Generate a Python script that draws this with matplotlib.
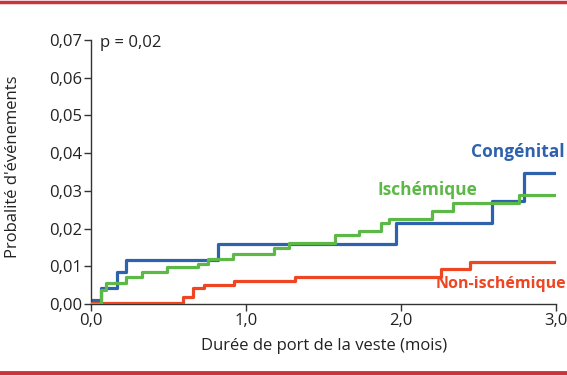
import matplotlib.pyplot as plt
from matplotlib.lines import Line2D

plt.rcParams['font.family'] = ['Open Sans', 'DejaVu Sans']

# step curves (time in months, cumulative event probability)
congenital_t = [0.0, 0.063, 0.17, 0.224, 0.819, 1.966, 2.585, 2.794, 2.99]
congenital_p = [0.001, 0.0043, 0.0084, 0.0117, 0.0158, 0.0214, 0.0274, 0.0347, 0.0347]

ischemic_t = [0.0, 0.063, 0.095, 0.228, 0.331, 0.49, 0.688, 0.753, 0.918, 1.179,
              1.275, 1.574, 1.731, 1.869, 1.923, 2.2, 2.334, 2.763, 3.0]
ischemic_p = [0.0, 0.0037, 0.0057, 0.0071, 0.0084, 0.0097, 0.0107, 0.0119, 0.0132, 0.0149,
              0.0163, 0.0182, 0.0193, 0.0216, 0.0226, 0.0247, 0.0268, 0.0289, 0.0289]

nonischemic_t = [0.0, 0.594, 0.66, 0.729, 0.923, 1.314, 2.26, 2.441, 3.0]
nonischemic_p = [0.0004, 0.0018, 0.0042, 0.0050, 0.0060, 0.0071, 0.0092, 0.0111, 0.0111]

x_ticks = [0, 1, 2, 3]
x_tick_labels = ['0,0', '1,0', '2,0', '3,0']
y_ticks = [0, 0.01, 0.02, 0.03, 0.04, 0.05, 0.06, 0.07]
y_tick_labels = ['0,00', '0,01', '0,02', '0,03', '0,04', '0,05', '0,06', '0,07']

BLUE = '#2f62ad'
GREEN = '#5cb947'
RED = '#ee4523'
BAR = '#c8363b'
TXT = '#222222'

fig = plt.figure(figsize=(5.67, 3.75), dpi=100)
ax = fig.add_axes([0.1605, 0.1893, 0.8205, 0.704])

ax.step(nonischemic_t, nonischemic_p, where='post', color=RED, lw=2.3, zorder=3)
ax.step(ischemic_t, ischemic_p, where='post', color=GREEN, lw=2.3, zorder=4)
ax.step(congenital_t, congenital_p, where='post', color=BLUE, lw=2.3, zorder=2)

ax.set_xlim(0, 3)
ax.set_ylim(0, 0.07)
ax.set_xticks(x_ticks)
ax.set_xticklabels(x_tick_labels)
ax.set_yticks(y_ticks)
ax.set_yticklabels(y_tick_labels)
ax.tick_params(direction='out', length=5, width=1, color='#333333',
               labelsize=12, labelcolor=TXT, pad=1.5)

for side in ['top', 'right']:
    ax.spines[side].set_visible(False)
for side in ['left', 'bottom']:
    ax.spines[side].set_color('#333333')
    ax.spines[side].set_linewidth(1)

ax.set_xlabel('Durée de port de la veste (mois)', fontsize=12, color=TXT)
ax.set_ylabel("Probalité d'événements", fontsize=12, color=TXT)
ax.xaxis.set_label_coords(0.5, -0.13)
ax.yaxis.set_label_coords(-0.15, 0.52)

ax.text(0.055, 0.0693, 'p = 0,02', fontsize=12, color=TXT, va='center', ha='left')
ax.text(2.45, 0.0402, 'Congénital', fontsize=12.5, fontweight='bold', color=BLUE,
        va='center', ha='left')
ax.text(2.17, 0.0302, 'Ischémique', fontsize=12.5, fontweight='bold', color=GREEN,
        va='center', ha='center')
ax.text(2.22, 0.0053, 'Non-ischémique', fontsize=11.5, fontweight='bold', color=RED,
        va='center', ha='left')

# red rules at top and bottom of the figure
fig.add_artist(Line2D([0, 1], [0.996, 0.996], color=BAR, lw=2.5, transform=fig.transFigure))
fig.add_artist(Line2D([0, 1], [0.0065, 0.0065], color=BAR, lw=3.5, transform=fig.transFigure))

fig.savefig('out.png', dpi=100)
